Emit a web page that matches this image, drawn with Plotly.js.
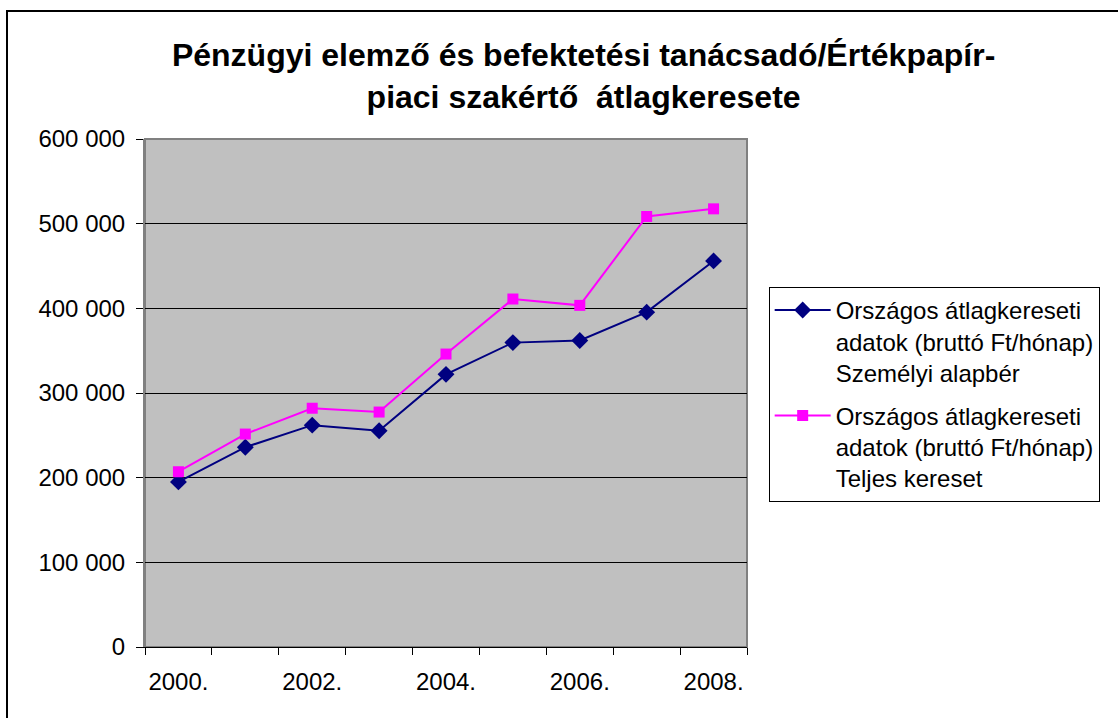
<!DOCTYPE html>
<html>
<head>
<meta charset="utf-8">
<script src="https://cdn.plot.ly/plotly-3.0.1.min.js"></script>
<style>
html,body{margin:0;padding:0;background:#fff;}
#chart{width:1118px;height:718px;}
</style>
</head>
<body>
<div id="chart"></div>
<script>
const years = [2000, 2001, 2002, 2003, 2004, 2005, 2006, 2007, 2008];
const labeledYears = [2000, 2002, 2004, 2006, 2008];
const labeledText = ["2000.", "2002.", "2004.", "2006.", "2008."];
const alapber = [195000, 236000, 262000, 255500, 322000, 359500, 362000, 395500, 456000];
const teljes = [207000, 251500, 282000, 277500, 346000, 411000, 403500, 508500, 517500];
const seriesNames = [
  "Országos átlagkereseti<br>adatok (bruttó Ft/hónap)<br>Személyi alapbér",
  "Országos átlagkereseti<br>adatok (bruttó Ft/hónap)<br>Teljes kereset"
];
const titleText = "Pénzügyi elemző és befektetési tanácsadó/Értékpapír-<br>piaci szakértő  átlagkeresete";

const boundaries = years.map(y => y - 0.5).concat([years[years.length - 1] + 0.5]);
const FONT = "Arial, 'Liberation Sans', sans-serif";

const traces = [
  {
    x: years, y: alapber, name: seriesNames[0], legendgroup: "a", type: "scatter", mode: "lines+markers",
    line: {color: "#000080", width: 2},
    marker: {symbol: "diamond", size: 13, color: "#000080"}
  },
  {
    x: years, y: teljes, name: seriesNames[1], legendgroup: "b", type: "scatter", mode: "lines+markers",
    line: {color: "#FF00FF", width: 2},
    marker: {symbol: "square", size: 11, color: "#FF00FF"}
  },
  {
    x: [years[0]], y: [null], xaxis: "x2", showlegend: false, hoverinfo: "skip",
    type: "scatter", mode: "markers"
  }
];

const layout = {
  width: 1118, height: 718,
  margin: {l: 145, r: 371, t: 139, b: 71, pad: 0},
  paper_bgcolor: "#ffffff",
  plot_bgcolor: "#C0C0C0",
  separators: ", ",
  font: {family: FONT, size: 24, color: "#000"},
  title: {
    text: titleText,
    font: {family: FONT, size: 32, color: "#000", weight: "bold"},
    x: 0.522, xref: "container", xanchor: "center",
    y: 0.908, yref: "container", yanchor: "middle"
  },
  xaxis: {
    type: "linear",
    range: [boundaries[0], boundaries[boundaries.length - 1]],
    tickvals: labeledYears, ticktext: labeledText,
    ticks: "", showgrid: false, zeroline: false,
    showline: true, linecolor: "#000", linewidth: 1,
    ticklabelstandoff: 13,
    tickfont: {family: FONT, size: 24, color: "#000"}
  },
  xaxis2: {
    type: "linear", overlaying: "x", side: "bottom",
    range: [boundaries[0], boundaries[boundaries.length - 1]],
    tickvals: boundaries, ticks: "outside", ticklen: 7, tickcolor: "#000", tickwidth: 1,
    showticklabels: false, showgrid: false, zeroline: false, showline: false
  },
  yaxis: {
    range: [0, 600000], dtick: 100000, tickformat: ",d",
    ticks: "outside", ticklen: 7, tickcolor: "#000",
    showgrid: true, gridcolor: "#000", gridwidth: 1,
    zeroline: false, showline: true, linecolor: "#808080", linewidth: 2,
    ticklabelstandoff: 6,
    tickfont: {family: FONT, size: 24, color: "#000"}
  },
  legend: {
    x: 1.036, xanchor: "left", y: 0.709, yanchor: "top",
    bgcolor: "#ffffff", bordercolor: "#000", borderwidth: 1,
    font: {family: FONT, size: 24, color: "#000"},
    tracegroupgap: 9, itemwidth: 56, valign: "top"
  },
  shapes: [
    {type: "rect", xref: "paper", yref: "paper",
     x0: 0, x1: 1, y0: 0, y1: 1, line: {color: "#808080", width: 2}, layer: "below"},
    {type: "rect", xref: "paper", yref: "paper",
     x0: (7 - 145) / 602, x1: (1130 - 145) / 602,
     y0: (647 - 730) / 508, y1: (647 - 11) / 508,
     line: {color: "#000", width: 2}, fillcolor: "rgba(0,0,0,0)", layer: "above"}
  ]
};

Plotly.newPlot("chart", traces, layout, {displayModeBar: false, staticPlot: true});
</script>
</body>
</html>
